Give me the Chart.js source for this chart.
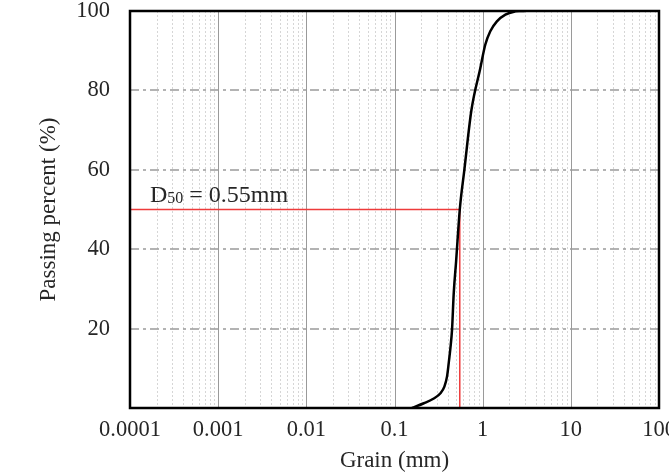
<!DOCTYPE html>
<html lang="en">
<head>
    <meta charset="UTF-8">
    <title>Grain size distribution</title>
    <script src="https://cdn.jsdelivr.net/npm/chart.js"></script>
    <style>
        html, body { margin: 0; padding: 0; overflow: hidden; background: #fff; }
        /* canvas is a bit wider than the window so the last x label gets cut like the original */
        .chart-box { width: 700px; height: 472px; }
    </style>
</head>
<body>
    <div class="chart-box"><canvas id="psd"></canvas></div>

    <script>
        // Grading curve
        const grainSizes = [0.158, 0.215, 0.279, 0.332, 0.368, 0.394, 0.412, 0.432, 0.449, 0.47, 0.50, 0.55, 0.62, 0.745, 0.94, 1.07, 1.22, 1.45, 1.81, 2.34, 2.6, 3.0];
        const passingPercent = [0, 1.2, 2.4, 3.7, 5.4, 7.9, 11.3, 15.4, 19.6, 29, 37, 50, 60, 75, 85.6, 91.5, 94.9, 97.4, 99.1, 99.9, 100, 100];

        // D50 marker
        const d50Size = 0.55;
        const d50Percent = 50;
        const d50Label = ['D', '50', ' = 0.55mm'];

        // Axis ticks
        const xTickValues = [0.0001, 0.001, 0.01, 0.1, 1, 10, 100];
        const xTickLabels = ['0.0001', '0.001', '0.01', '0.1', '1', '10', '100'];
        const yTickValues = [20, 40, 60, 80, 100];
        const yGridValues = [20, 40, 60, 80];

        const serif = "'Liberation Serif', 'Times New Roman', serif";
        const textColor = '#262626';

        // custom grid: dotted minor / solid major verticals, dash-dot horizontals, plus the frame
        const gridPlugin = {
            id: 'psdGrid',
            beforeDatasetsDraw(chart) {
                const { ctx, chartArea: a, scales: { x, y } } = chart;
                ctx.save();
                ctx.lineWidth = 1;
                // minor
                ctx.strokeStyle = '#d6d6d6';
                ctx.setLineDash([2, 2]);
                for (let i = 0; i < xTickValues.length - 1; i++) {
                    for (let k = 2; k <= 9; k++) {
                        const px = Math.round(x.getPixelForValue(k * xTickValues[i])) + 0.5;
                        ctx.beginPath();
                        ctx.moveTo(px, a.top);
                        ctx.lineTo(px, a.bottom);
                        ctx.stroke();
                    }
                }
                // major
                ctx.setLineDash([]);
                ctx.strokeStyle = '#9a9a9a';
                for (let i = 1; i < xTickValues.length - 1; i++) {
                    const px = Math.round(x.getPixelForValue(xTickValues[i])) + 0.5;
                    ctx.beginPath();
                    ctx.moveTo(px, a.top);
                    ctx.lineTo(px, a.bottom);
                    ctx.stroke();
                }
                // horizontal dash-dot
                ctx.strokeStyle = '#9a9a9a';
                ctx.lineWidth = 1.5;
                ctx.setLineDash([9, 4, 3, 4]);
                yGridValues.forEach(v => {
                    const py = Math.round(y.getPixelForValue(v));
                    ctx.beginPath();
                    ctx.moveTo(a.left, py);
                    ctx.lineTo(a.right, py);
                    ctx.stroke();
                });
                ctx.restore();
            },
            afterDraw(chart) {
                const { ctx, chartArea: a, scales: { x, y } } = chart;
                ctx.save();
                ctx.strokeStyle = '#000';
                ctx.lineWidth = 2.5;
                ctx.strokeRect(a.left, a.top, a.right - a.left, a.bottom - a.top);

                // D50 note
                let tx = a.left + 20;
                const base = y.getPixelForValue(d50Percent) - 8;
                ctx.fillStyle = textColor;
                ctx.textBaseline = 'alphabetic';
                ctx.font = '24px ' + serif;
                ctx.fillText(d50Label[0], tx, base);
                tx += ctx.measureText(d50Label[0]).width;
                ctx.font = '16px ' + serif;
                ctx.fillText(d50Label[1], tx, base + 1);
                tx += ctx.measureText(d50Label[1]).width;
                ctx.font = '24px ' + serif;
                ctx.fillText(d50Label[2], tx, base);
                ctx.restore();
            }
        };

        new Chart(document.getElementById('psd'), {
            type: 'line',
            data: {
                datasets: [
                    {
                        label: 'Grading curve',
                        data: grainSizes.map((g, i) => ({ x: g, y: passingPercent[i] })),
                        borderColor: '#000',
                        borderWidth: 2.5,
                        pointRadius: 0,
                        cubicInterpolationMode: 'monotone',
                        fill: false
                    },
                    {
                        label: 'D50',
                        data: [
                            { x: xTickValues[0], y: d50Percent },
                            { x: d50Size, y: d50Percent },
                            { x: d50Size, y: 0 }
                        ],
                        borderColor: '#ee3b3b',
                        borderWidth: 1.5,
                        pointRadius: 0,
                        tension: 0,
                        fill: false
                    }
                ]
            },
            options: {
                responsive: true,
                maintainAspectRatio: false,
                animation: false,
                layout: { padding: { top: 11, right: 41, bottom: 0, left: 0 } },
                plugins: {
                    legend: { display: false },
                    tooltip: { enabled: false }
                },
                scales: {
                    x: {
                        type: 'logarithmic',
                        min: xTickValues[0],
                        max: xTickValues[xTickValues.length - 1],
                        afterBuildTicks: scale => {
                            scale.ticks = xTickValues.map(v => ({ value: v }));
                        },
                        afterFit: scale => { scale.height = 64; },
                        grid: { display: false, drawTicks: false },
                        border: { display: false },
                        ticks: {
                            autoSkip: false,
                            maxRotation: 0,
                            padding: 9,
                            color: textColor,
                            font: { family: serif, size: 22.5 },
                            callback: (v) => {
                                const i = xTickValues.findIndex(t => Math.abs(Math.log10(t) - Math.log10(v)) < 1e-6);
                                return i >= 0 ? xTickLabels[i] : '';
                            }
                        },
                        title: {
                            display: true,
                            text: 'Grain (mm)',
                            color: textColor,
                            font: { family: serif, size: 23, lineHeight: 1 },
                            padding: { top: 0, bottom: 0 }
                        }
                    },
                    y: {
                        min: 0,
                        max: 100,
                        afterBuildTicks: scale => {
                            scale.ticks = yTickValues.map(v => ({ value: v }));
                        },
                        afterFit: scale => {
                            scale.width = 130;
                            scale.paddingTop = 0;
                            scale.paddingBottom = 0;
                        },
                        grid: { display: false, drawTicks: false },
                        border: { display: false },
                        ticks: {
                            padding: 20,
                            color: textColor,
                            font: { family: serif, size: 22.5 }
                        },
                        title: {
                            display: true,
                            text: 'Passing percent (%)',
                            color: textColor,
                            font: { family: serif, size: 23, lineHeight: 1 },
                            padding: { top: 37, bottom: 0 }
                        }
                    }
                }
            },
            plugins: [gridPlugin]
        });
    </script>
</body>
</html>
